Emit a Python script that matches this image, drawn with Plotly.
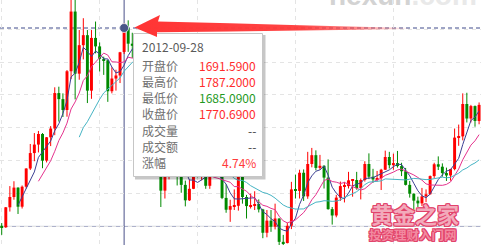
import pandas as pd
import plotly.graph_objects as go

# Monthly gold quotes (USD/oz), 2010-03 .. 2019-12
opens = [1118, 1113, 1179, 1213, 1244, 1181, 1247, 1307, 1358, 1386,
         1421, 1333, 1410, 1439, 1556, 1536, 1500, 1628, 1825, 1620,
         1714, 1747, 1564, 1738, 1710, 1669, 1664, 1562, 1604, 1614,
         1691.59, 1770, 1719, 1712, 1675, 1663, 1578, 1596, 1476, 1393,
         1234, 1313, 1396, 1327, 1323, 1253, 1202, 1240, 1326, 1284,
         1296, 1250, 1327, 1282, 1287, 1210, 1171, 1183, 1184, 1283,
         1213, 1183, 1184, 1190, 1172, 1095, 1135, 1115, 1142, 1065,
         1061, 1118, 1238, 1233, 1293, 1215, 1322, 1351, 1309, 1316,
         1277, 1173, 1152, 1211, 1248, 1249, 1268, 1269, 1242, 1269,
         1322, 1280, 1271, 1275, 1303, 1345, 1318, 1325, 1315, 1298,
         1253, 1224, 1201, 1192, 1215, 1222, 1282, 1321, 1313, 1292,
         1284, 1305, 1409, 1413, 1520, 1472, 1513, 1464]
highs = [1127, 1180, 1249, 1265, 1245, 1251, 1308, 1388, 1424, 1431,
         1424, 1411, 1447, 1575, 1577, 1555, 1632, 1913, 1921, 1764,
         1803, 1764, 1764, 1792, 1723, 1676, 1666, 1641, 1633, 1692,
         1787.2, 1796, 1755, 1725, 1695, 1684, 1617, 1597, 1487, 1424,
         1348, 1433, 1434, 1362, 1362, 1267, 1270, 1345, 1392, 1331,
         1315, 1332, 1345, 1322, 1291, 1255, 1204, 1238, 1307, 1284,
         1220, 1224, 1232, 1205, 1174, 1170, 1170, 1191, 1143, 1088,
         1128, 1263, 1287, 1303, 1304, 1362, 1375, 1367, 1352, 1318,
         1337, 1180, 1220, 1264, 1263, 1296, 1272, 1296, 1274, 1331,
         1357, 1306, 1299, 1306, 1366, 1362, 1356, 1365, 1326, 1309,
         1266, 1225, 1214, 1243, 1238, 1284, 1326, 1347, 1324, 1310,
         1306, 1439, 1452, 1555, 1557, 1517, 1515, 1525]
lows = [1088, 1111, 1165, 1204, 1157, 1175, 1241, 1302, 1331, 1360,
        1308, 1327, 1381, 1417, 1462, 1477, 1478, 1602, 1535, 1600,
        1667, 1523, 1537, 1687, 1627, 1616, 1527, 1555, 1564, 1589,
        1685.09, 1692, 1672, 1636, 1626, 1554, 1562, 1321, 1338, 1180,
        1208, 1271, 1292, 1251, 1227, 1182, 1200, 1239, 1278, 1268,
        1240, 1240, 1281, 1280, 1206, 1161, 1131, 1170, 1168, 1191,
        1142, 1175, 1170, 1162, 1077, 1080, 1098, 1106, 1052, 1046,
        1060, 1107, 1208, 1208, 1200, 1207, 1311, 1301, 1303, 1241,
        1171, 1122, 1146, 1200, 1195, 1241, 1214, 1237, 1205, 1264,
        1272, 1260, 1264, 1236, 1302, 1307, 1303, 1310, 1282, 1251,
        1211, 1160, 1180, 1183, 1196, 1221, 1276, 1302, 1280, 1266,
        1267, 1301, 1382, 1400, 1459, 1459, 1445, 1453]
closes = [1113, 1179, 1213, 1244, 1181, 1247, 1307, 1358, 1386, 1421,
          1333, 1410, 1439, 1556, 1536, 1500, 1628, 1825, 1620, 1714,
          1747, 1564, 1738, 1710, 1669, 1664, 1562, 1604, 1614, 1690.56,
          1770.69, 1719, 1712, 1675, 1663, 1578, 1596, 1476, 1393, 1234,
          1313, 1396, 1327, 1323, 1253, 1202, 1240, 1326, 1284, 1296,
          1250, 1327, 1282, 1287, 1210, 1171, 1183, 1184, 1283, 1213,
          1183, 1184, 1190, 1172, 1095, 1135, 1115, 1142, 1065, 1061,
          1118, 1238, 1233, 1293, 1215, 1322, 1351, 1309, 1316, 1277,
          1173, 1152, 1211, 1249, 1249, 1268, 1269, 1242, 1269, 1322,
          1280, 1271, 1275, 1303, 1345, 1318, 1325, 1315, 1298, 1253,
          1224, 1201, 1192, 1215, 1222, 1282, 1321, 1313, 1292, 1284,
          1305, 1409, 1413, 1520, 1472, 1513, 1464, 1517]

# last trading day of each month, used as the category labels
try:
    month_end = pd.date_range("2010-03-01", periods=len(closes), freq="BME")
except ValueError:
    month_end = pd.date_range("2010-03-01", periods=len(closes), freq="BM")
dates = [d.strftime("%Y-%m-%d") for d in month_end]

FOCUS_DATE = "2012-09-28"
MA_WINDOWS = [5, 10, 20]
MA_COLORS = ["#3c3f93", "#e5338e", "#46b4c4"]
GRID_LEVELS = [1116, 1224.5, 1333, 1441.5, 1550, 1658.5, 1767]
GRID_EVERY = 24
BASE_LEVEL = 1116

UP, DOWN = "#ff0000", "#008a00"
W, H = 481, 245
X_RANGE = [-0.42, 117.47]
Y_RANGE = [1054.6, 1863.1]


def px(x):
    return x / W


def py(y):
    return 1 - y / H


fig = go.Figure()

# candle bodies
up = [c >= o for o, c in zip(opens, closes)]
fig.add_trace(go.Bar(
    x=dates,
    base=[min(o, c) for o, c in zip(opens, closes)],
    y=[max(abs(c - o), 2.5) for o, c in zip(opens, closes)],
    width=0.72,
    marker=dict(color=[UP if u else DOWN for u in up], line=dict(width=0)),
    hoverinfo="skip",
))

# wicks
for flag, col in ((True, UP), (False, DOWN)):
    wx, wy = [], []
    for d, h, l, u in zip(dates, highs, lows, up):
        if u == flag:
            wx += [d, d, None]
            wy += [l, h, None]
    fig.add_trace(go.Scatter(x=wx, y=wy, mode="lines",
                             line=dict(color=col, width=1), hoverinfo="skip"))

# moving averages of the close
close_s = pd.Series(closes)
for n, col in zip(MA_WINDOWS, MA_COLORS):
    ma = close_s.rolling(n, min_periods=n).mean()
    fig.add_trace(go.Scatter(x=dates, y=ma, mode="lines",
                             line=dict(color=col, width=1), hoverinfo="skip"))

# --- tooltip panel and pointer arrow on a pixel overlay ---
def rect(x0, y0, x1, y1):
    return [x0, x1, x1, x0, x0], [y0, y0, y1, y1, y0]


sx, sy = rect(135, 35, 265.5, 179.5)
fig.add_trace(go.Scatter(x=sx, y=sy, xaxis="x2", yaxis="y2", mode="none",
                         fill="toself", fillcolor="rgba(0,0,0,0.22)",
                         hoverinfo="skip"))
bx, by = rect(133.5, 33.5, 262.5, 176.5)
fig.add_trace(go.Scatter(x=bx, y=by, xaxis="x2", yaxis="y2", mode="lines",
                         fill="toself", fillcolor="#ffffff",
                         line=dict(color="#c6c6c6", width=1),
                         hoverinfo="skip"))

arrow_pts = [(134.5, 27.5), (160, 15), (158, 21.5), (230, 23.3), (300, 25.2),
             (360, 26.8), (412, 28.1), (412, 28.9), (360, 29.7), (300, 30.6),
             (230, 31.4), (157, 32.3), (157, 37), (134.5, 27.5)]
fig.add_trace(go.Scatter(
    x=[p[0] for p in arrow_pts], y=[p[1] for p in arrow_pts],
    xaxis="x2", yaxis="y2", mode="none", fill="toself",
    fillgradient=dict(type="horizontal", colorscale=[
        [0, "rgba(255,52,52,1)"], [0.6, "rgba(255,58,58,0.95)"],
        [0.8, "rgba(255,70,70,0.65)"], [0.92, "rgba(255,90,90,0.3)"],
        [1, "rgba(255,110,110,0)"]]),
    hoverinfo="skip"))

# --- crosshair on the focused month ---
fi = dates.index(FOCUS_DATE)
shapes = [
    dict(type="line", xref="paper", yref="y", x0=0, x1=1,
         y0=BASE_LEVEL, y1=BASE_LEVEL, line=dict(color="#a3a8c4", width=1),
         layer="below"),
    dict(type="line", xref="paper", yref="y", x0=0, x1=1,
         y0=closes[fi], y1=closes[fi],
         line=dict(color="#3e4b8b", width=1, dash="4px,3px"), layer="below"),
    dict(type="line", xref="x", yref="paper", x0=dates[fi], x1=dates[fi],
         y0=0, y1=1, line=dict(color="#4b5189", width=1), layer="below"),
    dict(type="circle", xref="x", yref="y", xsizemode="pixel",
         ysizemode="pixel", xanchor=dates[fi], yanchor=closes[fi],
         x0=-4.5, x1=4.5, y0=-4.5, y1=4.5, fillcolor="#4a5788",
         line=dict(color="rgba(255,255,255,0.7)", width=1), layer="above"),
]

# --- tooltip text ---
CJK = "Noto Sans CJK SC"
prev = closes[fi - 1]
pct = (closes[fi] / prev - 1) * 100


def tone(v):
    return "#ff2b2b" if v >= prev else "#1f9a1f"


rows = [
    ("开盘价", f"{opens[fi]:.4f}", tone(opens[fi])),
    ("最高价", f"{highs[fi]:.4f}", tone(highs[fi])),
    ("最低价", f"{lows[fi]:.4f}", tone(lows[fi])),
    ("收盘价", f"{closes[fi]:.4f}", tone(closes[fi])),
    ("成交量", "--", "#444444"),
    ("成交额", "--", "#444444"),
    ("涨幅", f"{pct:.2f}%", "#ff3b3b" if pct >= 0 else "#1f9a1f"),
]

annotations = [dict(x=px(141), y=py(46), xref="paper", yref="paper",
                    text=FOCUS_DATE, showarrow=False, xanchor="left",
                    yanchor="middle", borderpad=0,
                    font=dict(family=CJK, size=12, color="#5a5a5a"))]
for k, (lab, val, col) in enumerate(rows):
    yy = 65 + 16.25 * k
    annotations.append(dict(x=px(141), y=py(yy), xref="paper", yref="paper",
                            text=lab, showarrow=False, xanchor="left",
                            yanchor="middle", borderpad=0,
                            font=dict(family=CJK, size=12, color="#707070")))
    annotations.append(dict(x=px(256.5), y=py(yy), xref="paper", yref="paper",
                            text=val, showarrow=False, xanchor="right",
                            yanchor="middle", borderpad=0,
                            font=dict(family=CJK, size=12, color=col)))

# site marks
annotations.append(dict(
    x=px(328), y=py(12.5), xref="paper", yref="paper", showarrow=False,
    xanchor="left", yanchor="bottom", borderpad=0,
    text='<b><span style="color:#d3d3d3">hexun</span>'
         '<span style="color:#e9e9e9">.com</span></b>',
    font=dict(family="Liberation Sans", size=28, color="#d8d8d8")))

ring = "#e2436b"
outline = ", ".join(f"{dx}px {dy}px 0px {ring}" for dx, dy in
                    ((1, 0), (-1, 0), (0, 1), (0, -1),
                     (1, 1), (-1, -1), (1, -1), (-1, 1)))
annotations.append(dict(
    x=px(415), y=py(213), xref="paper", yref="paper", showarrow=False,
    xanchor="center", yanchor="middle", borderpad=0, text="<b>黄金之家</b>",
    font=dict(family=CJK, size=22, color="#f2aabb", shadow=outline)))
annotations.append(dict(
    x=px(412.5), y=py(234.5), xref="paper", yref="paper", showarrow=False,
    xanchor="center", yanchor="middle", borderpad=0,
    text="<b>投资理财入门网</b>",
    font=dict(family=CJK, size=12.5, color="#f28aa0", shadow=outline)))

fig.update_layout(
    width=W, height=H,
    margin=dict(l=0, r=0, t=0, b=0, pad=0),
    paper_bgcolor="#ffffff", plot_bgcolor="#ffffff",
    showlegend=False, barmode="overlay", hovermode=False,
    xaxis=dict(type="category", range=X_RANGE, showticklabels=False,
               ticks="", tickvals=dates[::GRID_EVERY], showgrid=True,
               gridcolor="#e4e4e4", griddash="4px,4px", gridwidth=1,
               zeroline=False, showline=False, fixedrange=True),
    yaxis=dict(range=Y_RANGE, showticklabels=False, ticks="",
               tickvals=GRID_LEVELS, showgrid=True, gridcolor="#e4e4e4",
               griddash="4px,4px", gridwidth=1, zeroline=False,
               showline=False, fixedrange=True),
    xaxis2=dict(overlaying="x", anchor="y2", range=[0, W], visible=False,
                fixedrange=True),
    yaxis2=dict(overlaying="y", anchor="x2", range=[H, 0], visible=False,
                fixedrange=True),
    shapes=shapes,
    annotations=annotations,
)

fig.write_html("out.html")
